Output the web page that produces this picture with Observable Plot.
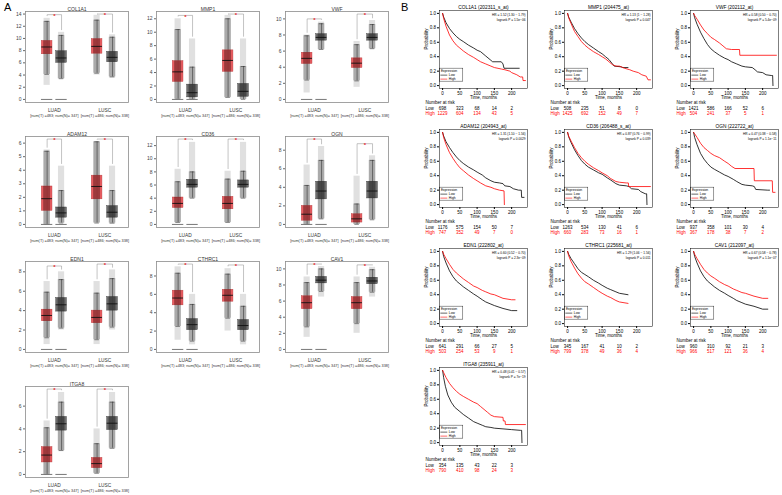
<!DOCTYPE html>
<html><head><meta charset="utf-8">
<script src="https://cdn.jsdelivr.net/npm/d3@7"></script>
<script src="https://cdn.jsdelivr.net/npm/@observablehq/plot@0.6"></script>
<style>
body{margin:0;background:#fff;}
#fig{position:relative;width:782px;height:495px;overflow:hidden;font-family:"Liberation Sans",Arial,sans-serif;background:#fff;}
#fig .pan{position:absolute;}
#fig .lab{position:absolute;font-size:11px;color:#000;}
</style></head>
<body><div id="fig"></div>
<script>
// ---------- DATA: panel A (box plots) ----------
// each box: [whiskerLow, q1, median, q3, whiskerHigh, pointMin, pointMax]; order LUAD T, LUAD N, LUSC T, LUSC N
const groups = ["LUAD", "LUSC"];
const groupCounts = ["[num(T) =483; num(N)= 347]", "[num(T) =486; num(N)= 338]"];
const boxGenes = ["COL1A1","MMP1","VWF","ADAM12","CD36","OGN","EDN1","CTHRC1","CAV1","ITGA8"];
const boxCOL1A1 = [[4.1,7.4,8.6,9.6,12.8,2.3,13.3],[3.4,6.0,6.8,7.9,10.5,3.3,11.0],[4.3,7.5,8.7,9.9,13.0,4.0,13.8],[3.7,6.1,6.9,7.8,10.2,3.5,10.6]];
const boxMMP1   = [[0.05,2.6,4.1,5.7,10.4,0,12.0],[0,0.3,1.0,2.2,4.8,0,9.0],[0.3,4.1,5.8,7.3,12.0,0.2,12.5],[0,0.4,1.2,2.3,4.9,0,9.0]];
const boxVWF    = [[2.4,4.4,5.1,5.8,7.9,0.8,8.0],[6.2,7.3,7.7,8.1,9.4,6.1,9.6],[2.3,3.9,4.5,5.1,6.8,1.5,7.2],[6.3,7.3,7.7,8.1,9.3,6.2,9.8]];
const boxADAM12 = [[0,1.0,1.9,2.8,5.4,0,5.5],[0.1,0.5,0.85,1.25,2.5,0.1,4.3],[0.1,1.85,2.8,3.6,6.1,0.1,6.1],[0.1,0.5,0.9,1.35,2.5,0,4.3]];
const boxCD36   = [[0.3,2.5,3.2,4.1,6.5,0.2,8.4],[4.0,5.6,6.1,6.8,8.0,3.9,12.5],[0.3,2.3,3.2,4.2,6.9,0.2,8.1],[4.0,5.6,6.1,6.7,8.1,3.9,12.5]];
const boxOGN    = [[0,0.4,1.1,2.0,4.2,0,6.4],[0.6,2.7,3.6,4.6,6.9,0.5,8.4],[0,0.2,0.6,1.1,2.2,0,5.2],[0.5,2.8,3.6,4.6,6.9,0.5,7.4]];
const boxEDN1   = [[1.2,2.9,3.5,4.1,5.9,0.5,7.0],[2.2,3.9,4.6,5.3,7.2,2.0,8.0],[1.0,2.7,3.3,4.0,5.8,0.5,7.0],[2.3,4.0,4.7,5.4,7.3,2.0,8.2]];
const boxCTHRC1 = [[2.5,4.8,5.6,6.4,8.3,1.0,9.0],[0.9,2.1,2.7,3.3,4.9,0.5,6.0],[3.4,5.2,5.9,6.5,8.2,2.0,8.8],[0.9,2.1,2.6,3.2,4.7,0.5,6.0]];
const boxCAV1   = [[2.8,5.0,5.8,6.6,8.3,1.5,9.0],[7.2,8.2,8.6,9.0,10.0,6.5,10.3],[3.2,5.0,5.8,6.5,8.3,2.0,9.0],[7.1,8.1,8.5,8.9,9.9,6.5,10.2]];
const boxITGA8  = [[0,1.05,1.7,2.4,4.1,0,4.7],[2.1,3.85,4.45,5.05,6.35,2.0,7.2],[0.1,0.55,0.95,1.45,2.7,0.05,4.0],[2.3,3.9,4.5,5.05,6.35,2.2,7.2]];
const boxTicks = [[0,2,4,6,8,10,12,14],[0,2,4,6,8,10,12],[0,2,4,6,8,10],[0,1,2,3,4,5,6],[0,2,4,6,8,10,12],[0,2,4,6,8],[0,2,4,6,8],[0,2,4,6,8],[0,2,4,6,8,10],[0,2,4,6]];
// bracket tops [LUAD, LUSC]
const bracketTops = [[13.9,14.0],[12.5,12.7],[10.0,10.6],[6.3,6.3],[13.0,13.0],[9.2,8.7],[8.6,8.8],[9.3,9.2],[10.6,10.5],[7.5,7.5]];

// ---------- DATA: panel B (Kaplan–Meier) ----------
const kmTitles = ["COL1A1 (202311_s_at)","MMP1 (204475_at)","VWF (202112_at)","ADAM12 (204943_at)","CD36 (206488_s_at)","OGN (222722_at)","EDN1 (222802_at)","CTHRC1 (225681_at)","CAV1 (212097_at)","ITGA8 (235911_at)"];
const kmHR = ["HR = 1.52 (1.30 \u2212 1.79)","HR = 1.13 (1 \u2212 1.28)","HR = 0.58 (0.50 \u2212 0.70)","HR = 1.31 (1.10 \u2212 1.56)","HR = 0.87 (0.76 \u2212 0.99)","HR = 0.47 (0.38 \u2212 0.58)","HR = 0.60 (0.52 \u2212 0.70)","HR = 1.29 (1.06 \u2212 1.56)","HR = 0.67 (0.58 \u2212 0.78)","HR = 0.48 (0.41 \u2212 0.57)"];
const kmP = ["logrank P = 1.5e\u221206","logrank P = 0.047","logrank P = 5.4e\u221209","logrank P = 0.0029","logrank P = 0.039","logrank P = 1.1e\u221211","logrank P = 2.3e\u221209","logrank P = 0.011","logrank P = 1.1e\u221207","logrank P = 7e\u221219"];
const riskTimes = [0,50,100,150,200];
const riskLow  = [[698,323,68,14,2],[508,235,51,8,0],[1421,586,166,52,6],[1176,575,154,50,7],[1263,534,130,41,6],[937,358,101,30,4],[641,291,66,27,5],[345,167,41,10,2],[960,310,92,21,3],[354,135,43,22,3]];
const riskHigh = [[1229,604,134,43,5],[1425,692,152,49,7],[504,241,37,5,1],[747,352,49,7,0],[660,283,73,16,1],[367,178,38,7,2],[503,254,53,9,1],[799,378,49,36,4],[966,517,121,36,4],[790,410,98,24,3]];
// survival curves [months, probability]
const kmLowCOL1A1  = [[0,1],[3,0.95],[10,0.87],[20,0.79],[30,0.73],[40,0.68],[50,0.64],[60,0.61],[75,0.56],[90,0.52],[100,0.49],[110,0.47],[125,0.41],[140,0.35],[145,0.33],[170,0.33],[175,0.30],[178,0.24],[222,0.24]];
const kmHighCOL1A1 = [[0,1],[3,0.93],[10,0.82],[20,0.70],[30,0.62],[40,0.56],[50,0.52],[60,0.48],[75,0.43],[90,0.39],[100,0.36],[110,0.33],[125,0.30],[140,0.27],[150,0.25],[170,0.23],[180,0.22],[195,0.20],[200,0.18],[215,0.15],[225,0.12],[232,0.12],[233,0.07],[240,0.07]];
const kmLowMMP1  = [[0,1],[3,0.95],[10,0.88],[20,0.79],[30,0.72],[40,0.66],[50,0.61],[60,0.57],[75,0.52],[90,0.47],[100,0.44],[110,0.40],[120,0.36],[130,0.30],[135,0.27],[155,0.26],[160,0.25],[175,0.25]];
const kmHighMMP1 = [[0,1],[3,0.94],[10,0.86],[20,0.75],[30,0.68],[40,0.61],[50,0.56],[60,0.52],[75,0.47],[90,0.43],[100,0.40],[110,0.37],[120,0.33],[130,0.29],[140,0.27],[150,0.27],[165,0.24],[180,0.22],[190,0.20],[205,0.18],[215,0.15],[228,0.13],[233,0.08],[240,0.08]];
const kmLowVWF  = [[0,1],[3,0.94],[10,0.85],[20,0.74],[30,0.65],[40,0.57],[50,0.51],[60,0.47],[75,0.42],[90,0.38],[100,0.36],[110,0.33],[125,0.30],[140,0.27],[150,0.26],[170,0.25],[178,0.22],[185,0.19],[200,0.18],[210,0.15],[225,0.14],[229,0.14],[230,0.0]];
const kmHighVWF = [[0,1],[3,0.97],[10,0.92],[20,0.84],[30,0.77],[40,0.72],[50,0.67],[60,0.64],[75,0.59],[85,0.55],[95,0.51],[110,0.50],[133,0.50],[134,0.42],[240,0.42]];
const kmLowADAM12  = [[0,1],[3,0.95],[10,0.87],[20,0.79],[30,0.72],[40,0.66],[50,0.61],[60,0.57],[75,0.52],[90,0.48],[100,0.45],[115,0.41],[125,0.37],[140,0.33],[150,0.31],[165,0.30],[175,0.29],[180,0.26],[195,0.25],[205,0.22],[220,0.20],[228,0.20],[229,0.10],[236,0.10]];
const kmHighADAM12 = [[0,1],[3,0.93],[10,0.83],[20,0.72],[30,0.64],[40,0.57],[50,0.51],[60,0.47],[75,0.41],[90,0.36],[100,0.33],[110,0.30],[125,0.26],[140,0.24],[150,0.22],[165,0.20],[178,0.19],[179,0.0]];
const kmLowCD36  = [[0,1],[3,0.94],[10,0.86],[20,0.76],[30,0.68],[40,0.61],[50,0.56],[60,0.52],[75,0.48],[90,0.44],[100,0.42],[115,0.37],[125,0.34],[140,0.29],[150,0.27],[170,0.26],[178,0.25],[185,0.22],[205,0.21],[212,0.18],[225,0.15],[229,0.15],[230,0.0]];
const kmHighCD36 = [[0,1],[3,0.95],[10,0.88],[20,0.79],[30,0.71],[40,0.65],[50,0.60],[60,0.56],[75,0.51],[90,0.47],[100,0.44],[115,0.40],[125,0.36],[140,0.32],[150,0.31],[170,0.30],[176,0.30],[177,0.25],[240,0.25]];
const kmLowOGN  = [[0,1],[3,0.93],[10,0.83],[20,0.71],[30,0.63],[40,0.57],[50,0.52],[60,0.49],[75,0.45],[90,0.41],[100,0.39],[115,0.35],[125,0.32],[140,0.28],[150,0.27],[170,0.26],[176,0.25],[180,0.21],[215,0.20],[220,0.20]];
const kmHighOGN = [[0,1],[3,0.98],[10,0.93],[20,0.85],[30,0.79],[40,0.75],[50,0.71],[60,0.68],[75,0.65],[90,0.60],[100,0.57],[110,0.53],[120,0.50],[175,0.50],[176,0.33],[228,0.33],[229,0.17],[236,0.17]];
const kmLowEDN1  = [[0,1],[3,0.93],[10,0.84],[20,0.73],[30,0.65],[40,0.59],[50,0.55],[60,0.51],[75,0.46],[90,0.41],[100,0.38],[115,0.33],[125,0.30],[140,0.27],[150,0.25],[175,0.21],[200,0.18],[215,0.18]];
const kmHighEDN1 = [[0,1],[3,0.96],[10,0.90],[20,0.82],[30,0.75],[40,0.70],[50,0.66],[60,0.62],[75,0.57],[90,0.52],[100,0.50],[115,0.46],[125,0.44],[140,0.41],[150,0.40],[175,0.35],[200,0.33],[210,0.33]];
const kmLowCTHRC1  = [[0,1],[3,0.96],[10,0.90],[20,0.83],[30,0.76],[40,0.71],[50,0.68],[60,0.65],[75,0.60],[90,0.56],[100,0.53],[115,0.49],[125,0.47],[140,0.44],[150,0.42],[175,0.40]];
const kmHighCTHRC1 = [[0,1],[3,0.94],[10,0.86],[20,0.77],[30,0.69],[40,0.63],[50,0.58],[60,0.55],[75,0.50],[90,0.45],[100,0.42],[115,0.38],[125,0.36],[140,0.32],[150,0.30],[175,0.28]];
const kmLowCAV1  = [[0,1],[3,0.93],[10,0.84],[20,0.73],[30,0.65],[40,0.59],[50,0.55],[60,0.51],[75,0.46],[90,0.42],[100,0.39],[115,0.35],[125,0.32],[140,0.29],[150,0.27],[175,0.24],[200,0.20],[215,0.20]];
const kmHighCAV1 = [[0,1],[3,0.96],[10,0.90],[20,0.82],[30,0.75],[40,0.70],[50,0.66],[60,0.63],[75,0.58],[90,0.54],[100,0.52],[115,0.48],[125,0.46],[140,0.43],[150,0.42],[175,0.38],[200,0.35],[215,0.35]];
const kmLowITGA8  = [[0,1],[3,0.90],[8,0.78],[15,0.66],[25,0.56],[35,0.49],[50,0.43],[60,0.39],[75,0.34],[90,0.29],[100,0.27],[115,0.24],[125,0.22],[140,0.21],[150,0.20],[175,0.19],[200,0.18],[225,0.17],[229,0.17],[230,0.0]];
const kmHighITGA8 = [[0,1],[3,0.97],[10,0.90],[20,0.82],[30,0.76],[40,0.71],[50,0.67],[60,0.64],[75,0.60],[90,0.56],[100,0.54],[110,0.50],[120,0.46],[130,0.42],[140,0.38],[150,0.36],[175,0.35],[176,0.30],[181,0.30],[182,0.25],[240,0.25]];

const boxData = [boxCOL1A1,boxMMP1,boxVWF,boxADAM12,boxCD36,boxOGN,boxEDN1,boxCTHRC1,boxCAV1,boxITGA8];
const kmLow  = [kmLowCOL1A1,kmLowMMP1,kmLowVWF,kmLowADAM12,kmLowCD36,kmLowOGN,kmLowEDN1,kmLowCTHRC1,kmLowCAV1,kmLowITGA8];
const kmHigh = [kmHighCOL1A1,kmHighMMP1,kmHighVWF,kmHighADAM12,kmHighCD36,kmHighOGN,kmHighEDN1,kmHighCTHRC1,kmHighCAV1,kmHighITGA8];

// ---------- drawing ----------
const FONT = "Liberation Sans, Arial, sans-serif";
const fig = document.getElementById("fig");
function place(node, left, top){ node.classList.add("pan"); node.style.left = left+"px"; node.style.top = top+"px"; fig.appendChild(node); }
function label(t, left, top){ const d=document.createElement("div"); d.className="lab"; d.textContent=t; d.style.left=left+"px"; d.style.top=top+"px"; fig.appendChild(d); }

const xPos = [2.1, 3.5, 6.95, 8.45];   // LUAD T, LUAD N, LUSC T, LUSC N
const tumorFill = "#e8474b", normalFill = "#5a5a5a";

function boxPanel(i){
  const stats = boxData[i];
  const ticks = boxTicks[i];
  const rows = stats.map((s,k)=>({x:xPos[k], tumor:k%2===0, lo:s[0], q1:s[1], med:s[2], q3:s[3], hi:s[4], pmin:s[5], pmax:s[6]}));
  const top = d3.max(bracketTops[i]) * 1.03;
  const ymax = top, ymin = -0.035*top;
  const brk = [];
  bracketTops[i].forEach((t,g)=>{
    const a=rows[2*g], b=rows[2*g+1];
    brk.push({g, x:a.x, y:Math.min(a.pmax+0.03*top, t)});
    brk.push({g, x:a.x, y:t});
    brk.push({g, x:b.x, y:t});
    brk.push({g, x:b.x, y:Math.min(b.pmax+0.03*top, t)});
  });
  const stars = bracketTops[i].map((t,g)=>({x:(rows[2*g].x+rows[2*g+1].x)/2, y:t}));
  const zeroBars = rows.slice(0,2);
  const hw = 0.52;
  const gx = (d,k)=>(xPos[2*k]+xPos[2*k+1])/2;
  return Plot.plot({
    width:130, height:122, marginLeft:25, marginRight:2, marginTop:11, marginBottom:20,
    style:{fontFamily:FONT, fontSize:"5px", color:"#444", background:"transparent"},
    x:{domain:[0,10], axis:null},
    y:{domain:[ymin,ymax]},
    marks:[
      Plot.frame({stroke:"#8c8c8c", strokeWidth:0.8}),
      Plot.axisY({ticks, tickSize:2, tickPadding:2, tickFormat:d=>String(d), label:null, stroke:"#666", fill:"#444", fontSize:5}),
      // extent of the jittered points (sparse outer part, dense whisker part)
      Plot.rect(rows,{x1:d=>d.x-0.3, x2:d=>d.x+0.3, y1:"pmin", y2:"pmax", fill:"#000", fillOpacity:0.12}),
      Plot.rect(rows,{x1:d=>d.x-0.32, x2:d=>d.x+0.32, y1:"lo", y2:"hi", fill:"#000", fillOpacity:0.24}),
      Plot.ruleX(rows,{x:"x", y1:"lo", y2:"hi", stroke:"#222", strokeWidth:0.5}),
      Plot.ruleY(rows,{y:"lo", x1:d=>d.x-0.22, x2:d=>d.x+0.22, stroke:"#222", strokeWidth:0.5}),
      Plot.ruleY(rows,{y:"hi", x1:d=>d.x-0.22, x2:d=>d.x+0.22, stroke:"#222", strokeWidth:0.5}),
      Plot.rect(rows,{x1:d=>d.x-hw, x2:d=>d.x+hw, y1:"q1", y2:"q3", fill:d=>d.tumor?tumorFill:normalFill, fillOpacity:0.88, stroke:d=>d.tumor?"#b03a3a":"#333", strokeWidth:0.4}),
      Plot.rect(rows,{x1:d=>d.x-0.34, x2:d=>d.x+0.34, y1:"q1", y2:"q3", fill:"#000", fillOpacity:0.3}),
      Plot.ruleY(rows,{y:"med", x1:d=>d.x-hw, x2:d=>d.x+hw, stroke:"#111", strokeWidth:0.9}),
      Plot.ruleY(zeroBars,{y:0, x1:d=>d.x-0.55, x2:d=>d.x+0.55, stroke:"#777", strokeWidth:1}),
      Plot.line(brk,{x:"x", y:"y", z:"g", stroke:"#888", strokeWidth:0.5}),
      Plot.text(stars,{x:"x", y:"y", text:()=>"*", fill:"#e8282b", fontSize:6, dy:1.5, fontWeight:"bold"}),
      Plot.text(groups,{x:gx, y:ymin, text:d=>d, dy:8, fontSize:4.8, fill:"#333"}),
      Plot.text(groupCounts,{x:gx, y:ymin, text:d=>d, dy:13.5, fontSize:3.8, fill:"#333"}),
      Plot.text([boxGenes[i]],{frameAnchor:"top", dy:-4.5, text:d=>d, fontSize:5, fill:"#333"})
    ]
  });
}

function kmPanel(i){
  const low = kmLow[i], high = kmHigh[i];
  const riskL = riskTimes.map((t,k)=>({t, v:riskLow[i][k]}));
  const riskH = riskTimes.map((t,k)=>({t, v:riskHigh[i][k]}));
  const legLines = [{g:"Low", c:"#000", y:0.145},{g:"High", c:"#ff0000", y:0.09}];
  return Plot.plot({
    width:128, height:118, marginLeft:39, marginRight:1, marginTop:10, marginBottom:30,
    style:{fontFamily:FONT, fontSize:"4.5px", color:"#000", background:"transparent", overflow:"visible"},
    x:{domain:[-9,246]},
    y:{domain:[-0.04,1.04]},
    marks:[
      Plot.frame({stroke:"#000", strokeWidth:0.5}),
      Plot.axisY({ticks:[0,0.2,0.4,0.6,0.8,1.0], tickFormat:d3.format(".1f"), tickSize:2, tickPadding:1.5, label:null, fontSize:4.5}),
      Plot.axisX({ticks:riskTimes, tickSize:2, tickPadding:1, label:null, fontSize:4.5}),
      Plot.text(["Probability"],{frameAnchor:"left", dx:-13, rotate:-90, text:d=>d, fontSize:4.5}),
      Plot.text(["Time, months"],{frameAnchor:"bottom", dy:10, text:d=>d, fontSize:4.5}),
      Plot.line(low,{x:d=>d[0], y:d=>d[1], stroke:"#000", strokeWidth:0.8}),
      Plot.line(high,{x:d=>d[0], y:d=>d[1], stroke:"#ff0000", strokeWidth:0.8}),
      // legend
      Plot.rect([0],{x1:-7, x2:60, y1:0.055, y2:0.235, stroke:"#000", strokeWidth:0.4, fill:"none"}),
      Plot.text(["Expression"],{x:-5, y:0.2, text:d=>d, textAnchor:"start", fontSize:3.3}),
      Plot.ruleY(legLines,{y:"y", x1:-5, x2:15, stroke:"c", strokeWidth:0.6}),
      Plot.text(legLines,{x:18, y:"y", text:"g", textAnchor:"start", fontSize:3.3}),
      // HR / P
      Plot.text([kmHR[i]],{frameAnchor:"top-right", dx:-2, dy:3.5, text:d=>d, fontSize:3.2}),
      Plot.text([kmP[i]],{frameAnchor:"top-right", dx:-2, dy:8, text:d=>d, fontSize:3.2}),
      // risk table
      Plot.text(["Number at risk"],{x:-9, y:-0.04, dx:-14, dy:14, text:d=>d, textAnchor:"start", fontSize:4.5}),
      Plot.text(["Low"],{x:-9, y:-0.04, dx:-14, dy:20, text:d=>d, textAnchor:"start", fontSize:4.5, fill:"#000"}),
      Plot.text(["High"],{x:-9, y:-0.04, dx:-14, dy:25.5, text:d=>d, textAnchor:"start", fontSize:4.5, fill:"#ff0000"}),
      Plot.text(riskL,{x:"t", y:-0.04, dy:20, text:d=>String(d.v), fill:"#000", fontSize:4.5}),
      Plot.text(riskH,{x:"t", y:-0.04, dy:25.5, text:d=>String(d.v), fill:"#ff0000", fontSize:4.5}),
      Plot.text([kmTitles[i]],{frameAnchor:"top", dy:-4.5, text:d=>d, fontSize:4.8})
    ]
  });
}

const boxCols = [0,131,260], boxRows = [0,125,250,375];
boxGenes.forEach((g,i)=>{ place(boxPanel(i), boxCols[i%3], boxRows[Math.floor(i/3)]); });
const kmCols = [400,525,651], kmRows = [0,119,238,357];
kmTitles.forEach((t,i)=>{ place(kmPanel(i), kmCols[i%3], kmRows[Math.floor(i/3)]); });
label("A", 4, 1);
label("B", 401, 1);
</script></body></html>
